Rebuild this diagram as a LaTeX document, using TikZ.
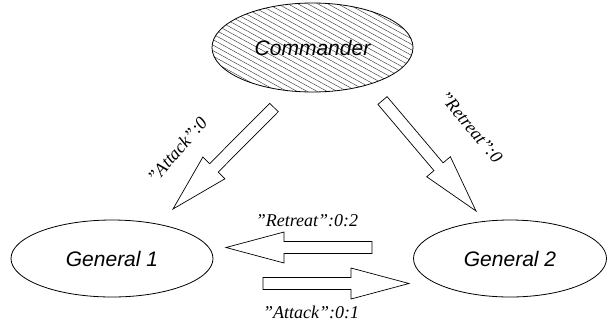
\documentclass[tikz,border=0pt]{standalone}
\usepackage{fontspec}
\setmainfont{Liberation Serif}
\newfontfamily\helv{Liberation Sans}
\usetikzlibrary{calc,shapes.geometric}
\tikzset{
  proc/.style={ellipse, draw, line width=0.8pt, inner sep=0pt,
    font=\helv\itshape\fontsize{21}{25}\selectfont},
  blockarr/.style={draw, line width=0.7pt, fill=white, line join=miter},
  elabel/.style={font=\itshape\fontsize{18}{21}\selectfont, inner sep=0pt},
  hatch/.style={line width=0.4pt, black!80}
}
% #1 tail coordinate, #2 tip coordinate, #3 name for head base
\newcommand\blockarrow[3]{%
  \coordinate (#3) at ($(#2)!58pt!(#1)$);
  \draw[blockarr] ($(#1)!6pt!90:(#2)$) -- ($(#3)!6pt!90:(#2)$)
    -- ($(#3)!15.5pt!90:(#2)$) -- (#2) -- ($(#3)!15.5pt!-90:(#2)$)
    -- ($(#3)!6pt!-90:(#2)$) -- ($(#1)!6pt!-90:(#2)$) -- cycle;
}
\begin{document}
\begin{tikzpicture}[x=1pt,y=-1pt]
\useasboundingbox (0,0) rectangle (607,322);
% hatching of the commander
\begin{scope}
  \clip (312.5,47.5) ellipse [x radius=100.5, y radius=44.5];
  \foreach \j in {-160,-154.5,...,100} \draw[hatch] (200,\j) -- ++(240,132);
\end{scope}
\node[proc, minimum width=201pt, minimum height=89pt] (cmd) at (312.5,47.5) {Commander};
\node[proc, minimum width=202pt, minimum height=77pt] (g1) at (112,258.5) {General 1};
\node[proc, minimum width=193pt, minimum height=77pt] (g2) at (510,258.5) {General 2};
% arrows
\coordinate (aT) at (274,107.5);   \coordinate (aP) at (173,209);
\coordinate (rT) at (382.5,100.5); \coordinate (rP) at (476,211);
\coordinate (hrT) at (372,247.5);  \coordinate (hrP) at (226,247.5);
\coordinate (haT) at (263,283.5);  \coordinate (haP) at (409,283.5);
\blockarrow{aT}{aP}{aH}
\blockarrow{rT}{rP}{rH}
\blockarrow{hrT}{hrP}{hrH}
\blockarrow{haT}{haP}{haH}
% labels
\node[elabel, rotate=49] (la) at (177,150) {"Attack":0};
\node[elabel, rotate=-50] (lr) at (471,127) {"Retreat":0};
\node[elabel] (lhr) at (307,221) {"Retreat":0:2};
\node[elabel] (lha) at (311,312) {"Attack":0:1};
\end{tikzpicture}
\end{document}
